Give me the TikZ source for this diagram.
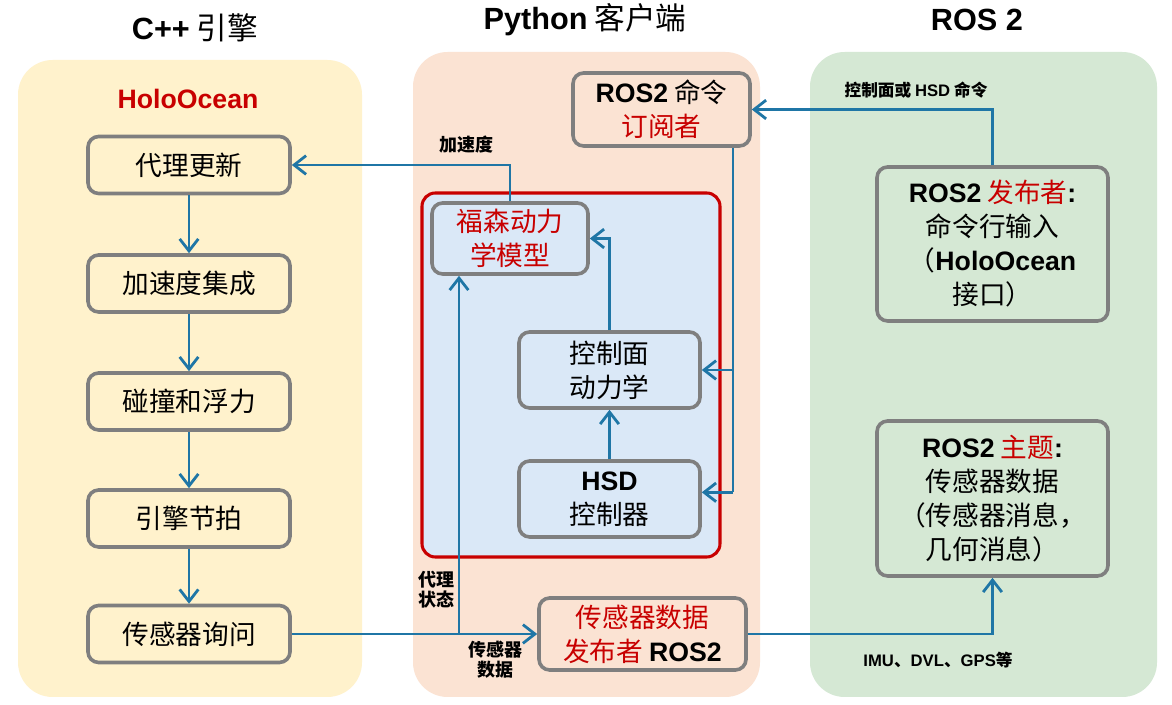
\documentclass[tikz,border=0pt]{standalone}
\usepackage{fontspec}
\setmainfont{Noto Sans CJK SC}
\newfontfamily\latfont{Liberation Sans}
\usetikzlibrary{arrows.meta}
\newcommand\LB[1]{{\latfont\bfseries #1}}
\definecolor{pyel}{HTML}{FFF2CC}
\definecolor{ppea}{HTML}{FBE3D3}
\definecolor{pgrn}{HTML}{D5E8D4}
\definecolor{pblu}{HTML}{DAE8F7}
\definecolor{dred}{HTML}{C80000}
\definecolor{gry}{HTML}{7F7F7F}
\definecolor{lnk}{HTML}{1F76A6}
\tikzset{
  panel/.style={rounded corners=26pt},
  box/.style={draw=gry, line width=2.7pt, rounded corners=8pt, align=center,
    font=\fontsize{20}{25.5}\selectfont, inner sep=0pt},
  conn/.style={draw=lnk, line width=2.1pt},
  arr/.style={conn, -{Straight Barb[length=9pt,width=14pt,line width=2.1pt]}},
  lbl/.style={font=\fontsize{13.5}{16}\selectfont\bfseries, align=center},
  slbl/.style={font=\fontsize{12.5}{15}\selectfont\bfseries, align=center},
  ttl/.style={font=\fontsize{23}{28}\selectfont}
}
\begin{document}
\begin{tikzpicture}[x=0.75pt,y=-0.75pt]
\useasboundingbox (0,0) rectangle (1172,705);
\fill[white] (0,0) rectangle (1172,705);
% panels
\fill[pyel,panel] (18,60) rectangle (362,697);
\fill[ppea,panel] (413,52) rectangle (760,697);
\fill[pgrn,panel] (810,52) rectangle (1157,697);
% titles
\node[ttl] (t1) at (195,28) {\LB{C++} 引擎};
\node[ttl] (t2) at (585,20) {\LB{Python} 客户端};
\node[ttl] (t3) at (977,20) {\LB{ROS 2}};
\node[font=\fontsize{20}{24}\selectfont, text=dred] (ho) at (188,99) {\LB{HoloOcean}};
% red frame
\draw[dred, line width=2.3pt, fill=pblu, rounded corners=10pt] (422,193) rectangle (720,557);
% left boxes
\node[box, minimum width=151.5pt, minimum height=42.75pt] (dl) at (189,165) {代理更新};
\node[box, minimum width=151.5pt, minimum height=42.75pt] (jj) at (189,283.5) {加速度集成};
\node[box, minimum width=151.5pt, minimum height=42.75pt] (pz) at (189,401.5) {碰撞和浮力};
\node[box, minimum width=151.5pt, minimum height=42.75pt] (yq) at (189,518.5) {引擎节拍};
\node[box, minimum width=151.5pt, minimum height=42.75pt] (sq) at (189,634) {传感器询问};
% middle boxes
\node[box, minimum width=132.75pt, minimum height=54.75pt] (sub) at (661.5,109.5) {\LB{ROS2} 命令\\{\color{dred}订阅者}};
\node[box, minimum width=117pt, minimum height=53.25pt, text=dred] (fos) at (510,238.5) {福森动力\\学模型};
\node[box, minimum width=135.75pt, minimum height=57pt] (ctl) at (609.5,370) {控制面\\动力学};
\node[box, minimum width=135.75pt, minimum height=57pt] (hsd) at (609.5,499) {\LB{HSD}\\控制器};
\node[box, minimum width=155.25pt, minimum height=54pt] (pub) at (642.5,634) {{\color{dred}传感器数据}\\{\color{dred}发布者} \LB{ROS2}};
% right boxes
\node[box, minimum width=173.25pt, minimum height=115.5pt] (cmd) at (992.5,244) {\LB{ROS2} {\color{dred}发布者}\LB{:}\\命令行输入\\（\LB{HoloOcean}\\接口）};
\node[box, minimum width=173.25pt, minimum height=116.25pt] (top) at (992.5,498.5) {\LB{ROS2} {\color{dred}主题}\LB{:}\\传感器数据\\（传感器消息，\\几何消息）};
% vertical chain
\draw[arr] (dl) -- (jj);
\draw[arr] (jj) -- (pz);
\draw[arr] (pz) -- (yq);
\draw[arr] (yq) -- (sq);
% connectors
\draw[arr] (fos.north) |- (dl.east);
\coordinate (s1) at (733,0);
\draw[conn] (s1 |- sub.south) -- ([yshift=5pt]s1 |- hsd.east);
\draw[arr] (s1 |- ctl.east) -- (ctl.east);
\draw[arr] ([yshift=5pt]s1 |- hsd.east) -- ([yshift=5pt]hsd.east);
\draw[arr] (ctl.north) |- (fos.east);
\draw[arr] (hsd) -- (ctl);
\draw[arr] (sq.east) -- (pub.west);
\coordinate (b1) at (459,0);
\draw[arr] (b1 |- sq.east) -- (b1 |- fos.south);
\draw[arr] (pub.east) -| (top.south);
\draw[arr] (cmd.north) |- (sub.east);
% labels
\node[lbl] (l1) at (466,145) {加速度};
\node[lbl] (l2) at (436,590) {代理\\[-1pt]状态};
\node[lbl] (l3) at (495,660) {传感器\\[-1pt]数据};
\node[slbl] (l4) at (916,90) {控制面或 \LB{HSD} 命令};
\node[slbl] (l5) at (938,660) {\LB{IMU}、\LB{DVL}、\LB{GPS}等};
\end{tikzpicture}
\end{document}
